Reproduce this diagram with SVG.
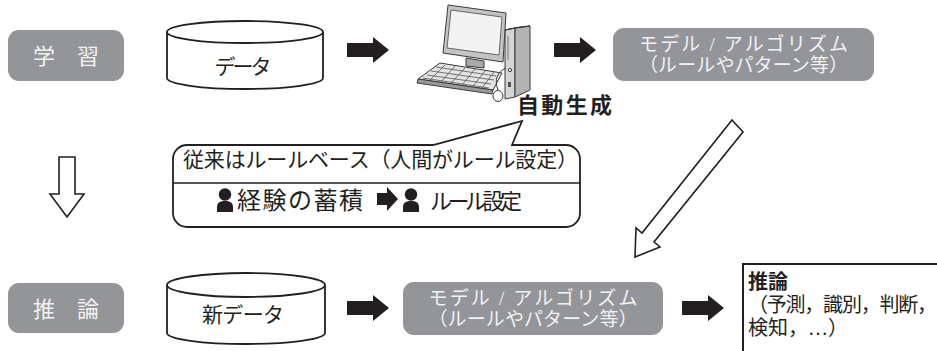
<svg xmlns="http://www.w3.org/2000/svg" width="937" height="351" viewBox="0 0 937 351">
  <style>
    .jp { font-family: "Liberation Serif", "Noto Sans CJK JP", serif; fill: #231f20; }
    .lbl { font-family: "Liberation Serif", "Noto Sans CJK JP", serif; fill: #f2f2f2; }
    .bold { font-family: "Noto Sans CJK JP", "Noto Sans", sans-serif; font-weight: bold; fill: #231f20; }
    .stage { fill: #939598; }
    .cyl { fill: #ffffff; stroke: #231f20; stroke-width: 1.8; }
    .hollow { fill: #ffffff; stroke: #231f20; stroke-width: 1.6; stroke-linejoin: miter; }
    .solid { fill: #231f20; }
    .pc { stroke: #3a3a3a; stroke-width: 1; stroke-linejoin: round; }
  </style>
  <defs>
    <!-- thick black block arrow pointing right, origin at tail centre -->
    <path id="blk" d="M0,-7 H26 V-13 L42,0 L26,13 V7 H0 Z"/>
    <path id="blkSmall" d="M0,-6 H10 V-12 L21,0 L10,12 V6 H0 Z"/>
    <!-- person silhouette -->
    <g id="person">
      <circle cx="8" cy="6.5" r="6.2"/>
      <path d="M0,24 V19 C0,14.5 3.5,13 8,13 C12.5,13 16,14.5 16,19 V24 Z"/>
    </g>
  </defs>

  <!-- stage labels -->
  <g id="learn">
    <rect class="stage" x="8" y="30" width="116" height="51" rx="11"/>
    <text class="lbl" x="66" y="64" font-size="22" text-anchor="middle">学　習</text>
  </g>
  <g id="infer">
    <rect class="stage" x="8" y="283" width="116" height="50" rx="11"/>
    <text class="lbl" x="66" y="317" font-size="22" text-anchor="middle">推　論</text>
  </g>

  <!-- data stores -->
  <g id="data">
    <path class="cyl" d="M167,32 V78 A78,11 0 0 0 323,78 V32"/>
    <ellipse class="cyl" cx="245" cy="32" rx="78" ry="11"/>
    <text class="jp" x="243" y="74" font-size="21" text-anchor="middle" textLength="57">データ</text>
  </g>
  <g id="newdata">
    <path class="cyl" d="M167,285 V333 A79,11 0 0 0 325,333 V285"/>
    <ellipse class="cyl" cx="246" cy="285" rx="79" ry="12"/>
    <text class="jp" x="243" y="322" font-size="21" text-anchor="middle" textLength="82">新データ</text>
  </g>

  <!-- desktop computer -->
  <g id="computer" class="pc">
    <!-- tower -->
    <polygon points="505,30 515,28 515,97 505,99" fill="#d4d4d4"/>
    <polygon points="515,28 530,26 530,90 515,97" fill="#b3b3b3"/>
    <polygon points="505,30 520,27 530,26 515,28" fill="#e6e6e6"/>
    <line x1="508" y1="36" x2="508" y2="60" stroke="#777"/>
    <circle cx="510" cy="70" r="1.6" fill="#fff"/>
    <rect x="508" y="82" width="3" height="5" fill="#555" stroke="none"/>
    <!-- monitor -->
    <polygon points="448,5 506,13 503,62 443,53" fill="#c4c4c4"/>
    <polygon points="451,10 502,17 499,55 447,48" fill="#f3f3f3" stroke="#666"/>
    <polygon points="466,58 484,61 484,68 466,66" fill="#a9a9a9"/>
    <!-- keyboard -->
    <polygon points="440,63 502,73 493,90 418,79" fill="#e4e4e4"/>
    <polygon points="418,79 493,90 492,94 417,83" fill="#9a9a9a"/>
    <g stroke="#555" stroke-width="0.8">
      <line x1="436" y1="67" x2="496" y2="76"/>
      <line x1="431" y1="71" x2="494" y2="80"/>
      <line x1="427" y1="75" x2="491" y2="84"/>
      <line x1="423" y1="78" x2="489" y2="88"/>
      <line x1="445" y1="65" x2="430" y2="80"/>
      <line x1="455" y1="66" x2="441" y2="82"/>
      <line x1="465" y1="68" x2="451" y2="83"/>
      <line x1="475" y1="69" x2="462" y2="85"/>
      <line x1="485" y1="71" x2="473" y2="86"/>
      <line x1="494" y1="72" x2="482" y2="88"/>
    </g>
    <!-- mouse and cable -->
    <path d="M506,68 C497,72 494,80 498,90" fill="none"/>
    <ellipse cx="498" cy="96" rx="5" ry="5.5" fill="#fff"/>
  </g>
  <text id="autogen" class="bold" x="517" y="113" font-size="22" textLength="95">自動生成</text>

  <!-- model boxes -->
  <g id="model">
    <rect class="stage" x="613" y="28" width="261" height="53" rx="11"/>
    <text class="lbl" x="743.5" y="51" font-size="19" text-anchor="middle" textLength="209">モデル / アルゴリズム</text>
    <text class="lbl" x="743.5" y="72" font-size="19" text-anchor="middle" textLength="209">（ルールやパターン等）</text>
  </g>
  <g id="model2">
    <rect class="stage" x="403" y="282" width="260" height="53" rx="11"/>
    <text class="lbl" x="533" y="305" font-size="19" text-anchor="middle" textLength="209">モデル / アルゴリズム</text>
    <text class="lbl" x="533" y="326" font-size="19" text-anchor="middle" textLength="209">（ルールやパターン等）</text>
  </g>

  <!-- result -->
  <g id="result">
    <rect x="743" y="264" width="300" height="120" fill="#ffffff" stroke="#231f20" stroke-width="2"/>
    <text class="bold" x="748" y="289" font-size="20">推論</text>
    <text class="jp" x="748" y="312" font-size="20" textLength="189">（予測，識別，判断，</text>
    <text class="jp" x="748" y="335" font-size="20">検知，…）</text>
  </g>

  <!-- rule-based note -->
  <g id="note">
    <path d="M187,145 H433 L522,121 L512,145 H566 A14,14 0 0 1 580,159 V213 A14,14 0 0 1 566,227 H187 A14,14 0 0 1 173,213 V159 A14,14 0 0 1 187,145 Z" fill="#ffffff" stroke="#231f20" stroke-width="1.8" stroke-linejoin="miter"/>
    <line x1="173" y1="183" x2="580" y2="183" stroke="#231f20" stroke-width="1.5"/>
    <text class="jp" x="183" y="167" font-size="21" textLength="395">従来はルールベース（人間がルール設定）</text>
    <use href="#person" x="217" y="188" fill="#231f20"/>
    <text class="jp" x="237" y="209" font-size="24" textLength="126">経験の蓄積</text>
    <use href="#blkSmall" x="377" y="199" class="solid"/>
    <use href="#person" x="403" y="188" fill="#231f20"/>
    <text class="jp" x="430" y="209" font-size="22" textLength="92">ルール設定</text>
  </g>

  <!-- connectors -->
  <g id="connectors">
    <use href="#blk" x="347" y="50" class="solid"/>
    <use href="#blk" x="554" y="50" class="solid"/>
    <use href="#blk" x="347" y="308" class="solid"/>
    <use href="#blk" x="682" y="308" class="solid"/>
    <!-- learning to inference -->
    <path class="hollow" d="M59,157 H75 V194 H84 L67,217 L50,194 H59 Z"/>
    <!-- trained model handed down to inference -->
    <path class="hollow" d="M732,120 L743,132 L654,242 L660,247 L635,257 L636,228 L642,233 Z"/>
  </g>
</svg>
